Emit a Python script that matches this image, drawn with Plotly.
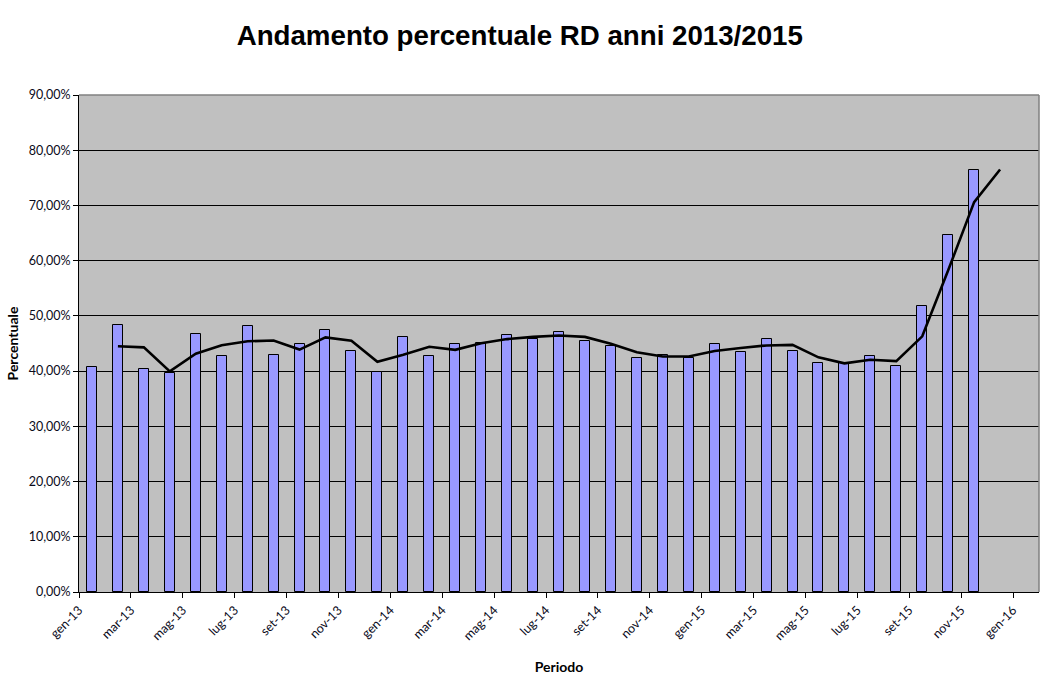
import plotly.graph_objects as go

# Month labels (axis slots gen-13 .. gen-16)
months = ["gen-13", "feb-13", "mar-13", "apr-13", "mag-13", "giu-13", "lug-13", "ago-13", "set-13", "ott-13", "nov-13", "dic-13",
          "gen-14", "feb-14", "mar-14", "apr-14", "mag-14", "giu-14", "lug-14", "ago-14", "set-14", "ott-14", "nov-14", "dic-14",
          "gen-15", "feb-15", "mar-15", "apr-15", "mag-15", "giu-15", "lug-15", "ago-15", "set-15", "ott-15", "nov-15", "dic-15",
          "gen-16"]

# Percentuale RD (bars), gen-13 .. nov-15
rd_values = [40.7, 48.3, 40.3, 39.6, 46.7, 42.7, 48.1, 43.0, 44.85, 47.4, 43.6, 39.8,
             46.1, 42.7, 45.0, 45.1, 46.5, 45.9, 47.0, 45.4, 44.5, 42.3, 43.0, 42.3,
             45.0, 43.4, 45.9, 43.6, 41.4, 41.4, 42.7, 40.85, 51.8, 64.7, 76.5]

# Media mobile a 2 periodi (line), feb-13 .. dic-15
mm_values = [44.5, 44.3, 39.95, 43.15, 44.7, 45.4, 45.55, 43.9, 46.1, 45.5, 41.7,
             42.95, 44.4, 43.85, 45.05, 45.8, 46.2, 46.45, 46.2, 44.95, 43.4, 42.65, 42.65,
             43.65, 44.2, 44.65, 44.75, 42.5, 41.4, 42.05, 41.8, 46.3, 58.25, 70.6, 76.5]

y_ticks = [0, 10, 20, 30, 40, 50, 60, 70, 80, 90]

bar_x = [i + 0.5 for i in range(len(rd_values))]
line_x = [i + 1.5 for i in range(len(mm_values))]

fig = go.Figure()
fig.add_trace(go.Bar(
    x=bar_x, y=[v / 100 for v in rd_values], width=0.385,
    marker=dict(color="#9999FF", line=dict(color="black", width=1)),
    showlegend=False, hoverinfo="skip"))
fig.add_trace(go.Scatter(
    x=line_x, y=[v / 100 for v in mm_values], mode="lines",
    line=dict(color="black", width=2.6), showlegend=False, hoverinfo="skip"))

tick_font = dict(family="Lato, 'Noto Sans', sans-serif", size=12.5, color="#0a0a1a")

fig.update_layout(
    width=1049, height=688,
    margin=dict(l=79, r=10, t=95, b=96),
    paper_bgcolor="white", plot_bgcolor="#C0C0C0",
    separators=",.",
    title=dict(text="<b>Andamento percentuale RD anni 2013/2015</b>",
               x=0.4955, xanchor="center", y=0.948, yanchor="middle",
               font=dict(family="Liberation Sans, Arial, sans-serif", size=27.7, color="black")),
    bargap=0,
)
fig.update_xaxes(
    range=[0, 37], tickvals=list(range(0, 37, 2)), ticktext=months[0::2],
    tickangle=-45, ticks="outside", ticklen=5, tickcolor="black", tickwidth=1,
    showline=True, linecolor="black", linewidth=1, showgrid=False, zeroline=False,
    tickfont=tick_font,
    title=dict(text="<b>Periodo</b>", standoff=20,
               font=dict(family="Lato, 'Noto Sans', sans-serif", size=14, color="black")))
fig.update_yaxes(
    range=[0, 0.9], tickvals=[t / 100 for t in y_ticks], tickformat=".2%",
    ticks="outside", ticklen=5, tickcolor="black", tickwidth=1,
    showline=True, linecolor="black", linewidth=1,
    showgrid=True, gridcolor="black", gridwidth=1, zeroline=False,
    tickfont=tick_font,
    title=dict(text="<b>Percentuale</b>", standoff=6,
               font=dict(family="Lato, 'Noto Sans', sans-serif", size=14, color="black")))

fig.add_shape(type="line", xref="paper", yref="paper", x0=0, x1=1, y0=1, y1=1,
              line=dict(color="#808080", width=1.5), layer="above")
fig.add_shape(type="line", xref="paper", yref="paper", x0=1, x1=1, y0=0, y1=1,
              line=dict(color="#808080", width=1.5), layer="above")

fig.write_html("out.html")
